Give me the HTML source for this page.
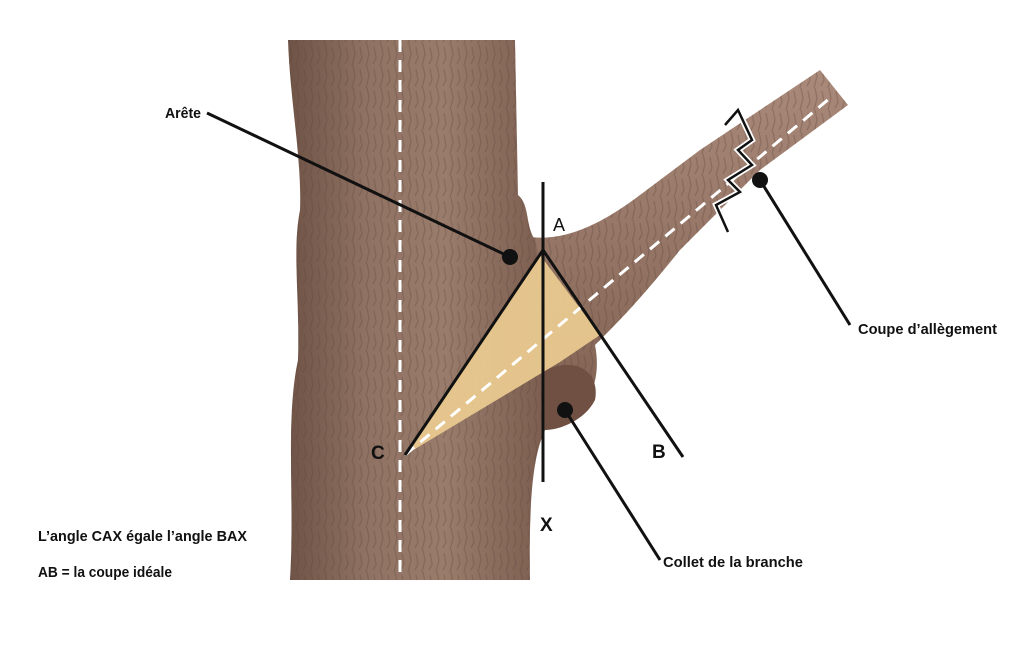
<!DOCTYPE html>
<html><head><meta charset="utf-8"><style>
html,body{margin:0;padding:0;background:#fff}
svg{display:block}
text{font-family:"Liberation Sans Narrow","Liberation Sans",sans-serif;font-weight:bold;fill:#111}
</style></head><body>
<svg width="1024" height="646" viewBox="0 0 1024 646" xmlns="http://www.w3.org/2000/svg">
<defs>
<linearGradient id="tr" x1="0" x2="1" y1="0" y2="0">
<stop offset="0" stop-color="#6e5346"/><stop offset="0.3" stop-color="#8f7263"/><stop offset="0.6" stop-color="#9a7c6c"/><stop offset="1" stop-color="#7a5c4e"/>
</linearGradient>
<linearGradient id="br" x1="0" x2="0" y1="0" y2="1">
<stop offset="0" stop-color="#aa8a7a"/><stop offset="1" stop-color="#806152"/>
</linearGradient>
<pattern id="bark" width="14" height="22" patternUnits="userSpaceOnUse">
<path d="M3 0 L5 10 L2 22 M10 3 L12 14 L9 20" stroke="#5e463b" stroke-width="1.4" fill="none" opacity="0.3"/>
</pattern>
</defs>
<path d="M520 235 C560 245 600 225 640 195 L700 150 L820 70 L848 105 L760 170 L680 250 C640 300 620 320 595 345 C600 370 595 395 580 405 L540 420 Z" fill="url(#br)"/>
<path d="M520 235 C560 245 600 225 640 195 L700 150 L820 70 L848 105 L760 170 L680 250 C640 300 620 320 595 345 C600 370 595 395 580 405 L540 420 Z" fill="url(#bark)"/>
<path d="M288 40 L515 40 L518 195 C530 205 525 225 535 240 L550 420 C540 440 528 460 530 580 L290 580 C295 500 285 420 298 360 C300 300 292 250 300 210 C302 160 290 100 288 40 Z" fill="url(#tr)"/>
<path d="M288 40 L515 40 L518 195 C530 205 525 225 535 240 L550 420 C540 440 528 460 530 580 L290 580 C295 500 285 420 298 360 C300 300 292 250 300 210 C302 160 290 100 288 40 Z" fill="url(#bark)"/>
<path d="M545 370 C580 355 600 375 595 400 C585 420 560 430 545 430 Z" fill="#6f5043"/>
<path d="M405 455 L540 255 L600 335 L560 362 Z" fill="#e9c98f" opacity="0.95"/>
<line x1="400" y1="40" x2="400" y2="580" stroke="#fff" stroke-width="3" stroke-dasharray="12,8"/>
<line x1="405" y1="455" x2="830" y2="98" stroke="#fff" stroke-width="3" stroke-dasharray="12,8"/>
<path d="M725 125 L738 110 L752 140 L738 150 L752 165 L728 180 L740 192 L716 205 L728 232" stroke="#fff" stroke-width="6" fill="none"/>
<path d="M725 125 L738 110 L752 140 L738 150 L752 165 L728 180 L740 192 L716 205 L728 232" stroke="#111" stroke-width="2.5" fill="none"/>
<g stroke="#111" stroke-width="3" fill="none">
<line x1="543" y1="182" x2="543" y2="482"/>
<line x1="543" y1="250" x2="405" y2="455"/>
<line x1="543" y1="250" x2="683" y2="457"/>
<line x1="207" y1="113" x2="510" y2="257"/>
<line x1="760" y1="180" x2="850" y2="325"/>
<line x1="565" y1="410" x2="660" y2="560"/>
</g>
<circle cx="510" cy="257" r="8" fill="#111"/>
<circle cx="760" cy="180" r="8" fill="#111"/>
<circle cx="565" cy="410" r="8" fill="#111"/>
<text x="165" y="118" font-size="15" textLength="36" lengthAdjust="spacingAndGlyphs">Arête</text>
<text x="553" y="231" font-size="18" style="font-weight:normal">A</text>
<text x="371" y="459" font-size="19">C</text>
<text x="652" y="458" font-size="19">B</text>
<text x="540" y="531" font-size="19">X</text>
<text x="858" y="334" font-size="15" textLength="139" lengthAdjust="spacingAndGlyphs">Coupe d’allègement</text>
<text x="663" y="567" font-size="15" textLength="140" lengthAdjust="spacingAndGlyphs">Collet de la branche</text>
<text x="38" y="541" font-size="15" textLength="209" lengthAdjust="spacingAndGlyphs">L’angle CAX égale l’angle BAX</text>
<text x="38" y="577" font-size="15" textLength="134" lengthAdjust="spacingAndGlyphs">AB = la coupe idéale</text>
</svg>
</body></html>
